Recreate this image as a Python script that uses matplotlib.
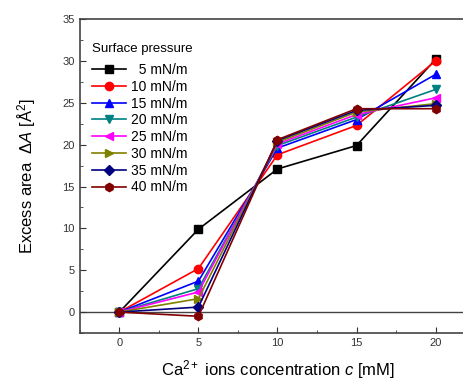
import matplotlib
matplotlib.use("Agg")
import matplotlib.pyplot as plt
from matplotlib.ticker import MultipleLocator

plt.rcParams['font.family'] = ['Liberation Sans', 'DejaVu Sans']
plt.rcParams['mathtext.fontset'] = 'custom'
plt.rcParams['mathtext.rm'] = 'Liberation Sans'
plt.rcParams['mathtext.it'] = 'Liberation Sans:italic'

conc = [0, 5, 10, 15, 20]
labels = ["  5 mN/m", "10 mN/m", "15 mN/m", "20 mN/m", "25 mN/m", "30 mN/m", "35 mN/m", "40 mN/m"]
p5 = [0, 9.9, 17.1, 19.9, 30.2]
p10 = [0, 5.2, 18.8, 22.3, 30.0]
p15 = [0, 3.7, 19.6, 23.0, 28.4]
p20 = [0, 2.8, 19.9, 23.3, 26.6]
p25 = [0, 2.4, 20.1, 23.6, 25.6]
p30 = [0, 1.6, 20.3, 23.9, 24.9]
p35 = [0, 0.6, 20.5, 24.1, 24.7]
p40 = [0, -0.5, 20.6, 24.3, 24.3]
series = [p5, p10, p15, p20, p25, p30, p35, p40]
colors = ['#000000', '#ff0000', '#0000ff', '#008080', '#ff00ff', '#808000', '#000080', '#800000']
markers = ['s', 'o', '^', 'v', '<', '>', 'D', 'h']

fig = plt.figure(figsize=(4.64, 3.83), dpi=100)
ax = fig.add_axes([0.172, 0.1305, 0.852, 0.8195])
ax.axhline(0, color='#444444', lw=1.0, zorder=1)
for ys, lab, c, m in zip(series, labels, colors, markers):
    ax.plot(conc, ys, color=c, marker=m, markersize=6 if m != 'D' else 5, lw=1.2, label=lab, zorder=3)

ax.set_xlim(-2.5, 22.5)
ax.set_ylim(-2.5, 35)
ax.xaxis.set_major_locator(MultipleLocator(5))
ax.xaxis.set_minor_locator(MultipleLocator(2.5))
ax.yaxis.set_major_locator(MultipleLocator(5))
ax.yaxis.set_minor_locator(MultipleLocator(2.5))
ax.tick_params(which='both', direction='in', labelsize=8, colors='#333333')
ax.tick_params(which='major', length=4)
ax.tick_params(which='minor', length=2)
for s in ax.spines.values():
    s.set_color('#444444')
    s.set_linewidth(1.2)

ax.set_xlabel(r'Ca$^{2+}$ ions concentration $c$ [mM]', fontsize=12, labelpad=7)
ax.set_ylabel(r'Excess area  $\Delta A$ [Å$^2$]', fontsize=12, labelpad=18)

leg = ax.legend(title='Surface pressure', loc='upper left', bbox_to_anchor=(0.0, 0.965),
                frameon=False, fontsize=10, title_fontsize=9.5, handlelength=2.4,
                handletextpad=0.4, labelspacing=0.2, borderaxespad=0.5)
leg._legend_box.align = 'left'
leg._legend_box.sep = 6

fig.savefig('out.png', dpi=100)
